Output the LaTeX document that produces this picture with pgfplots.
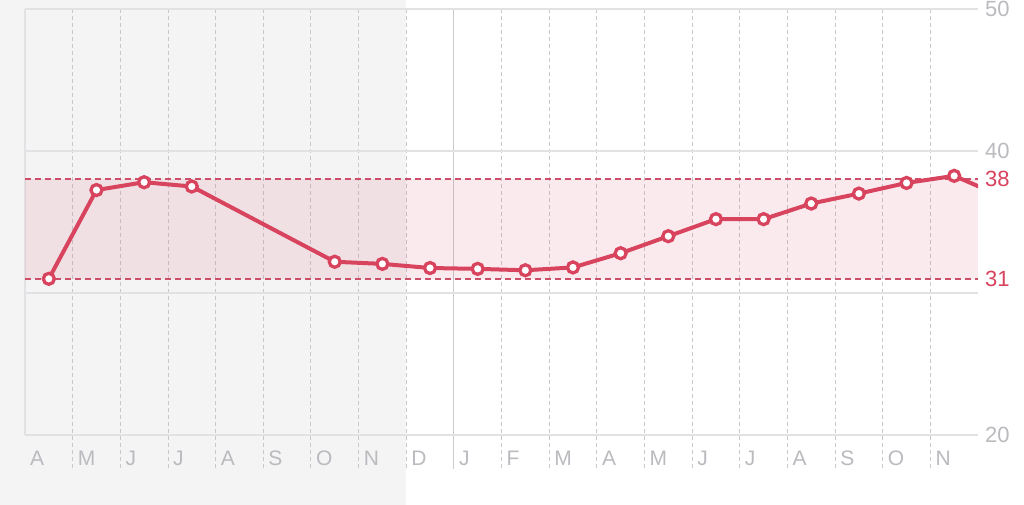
\documentclass[border=0pt]{standalone}
\usepackage{pgfplots}
\pgfplotsset{compat=1.18}
\usetikzlibrary{backgrounds}
\usepackage{fontspec}
\setmainfont{Liberation Sans}
\definecolor{linered}{RGB}{216,67,94}
\definecolor{dashred}{RGB}{205,78,105}
\definecolor{lblgray}{RGB}{186,186,191}
\definecolor{gridgray}{RGB}{226,226,229}
\definecolor{vgrid}{RGB}{200,200,205}
\definecolor{bgshade}{RGB}{244,244,245}
\begin{document}
\begin{tikzpicture}[x=1pt,y=1pt]
\begin{axis}[
  at={(0,0)}, anchor=south west,
  scale only axis, width=953pt, height=426pt,
  xmin=0, xmax=20, ymin=20, ymax=50,
  axis line style={draw=none},
  major tick length=0pt,
  xtick={0,...,19},
  xticklabels={A,M,J,J,A,S,O,N,D,J,F,M,A,M,J,J,A,S,O,N},
  xticklabel style={anchor=base west, inner sep=0pt, xshift=5pt, yshift=-30pt, text=lblgray, font=\fontsize{21}{25}\selectfont},
  ytick={20,30,40,50},
  yticklabels={20,,40,50},
  yticklabel pos=right,
  yticklabel style={anchor=west, inner sep=0pt, xshift=7pt, text=lblgray, font=\fontsize{22}{26}\selectfont},
  ymajorgrids,
  major grid style={gridgray, line width=1.1pt},
  extra y ticks={31,38},
  extra y tick labels={31,38},
  extra y tick style={yticklabel style={text=linered}, grid=none},
  /pgf/number format/assume math mode=true,
]
\fill[linered, opacity=0.11] (axis cs:0,31) rectangle (axis cs:20,38);
\draw[dashred, line width=1.8pt, dash pattern=on 6pt off 4pt] (axis cs:0,31) -- (axis cs:20,31);
\draw[dashred, line width=1.8pt, dash pattern=on 6pt off 4pt] (axis cs:0,38) -- (axis cs:20,38);
\addplot[linered, line width=4pt, mark=*,
  mark options={fill=white, draw=linered, line width=3.3pt, solid, mark size=5.5pt}]
coordinates {
(0.5,31.0) (1.5,37.25) (2.5,37.8) (3.5,37.5)
(6.5,32.2) (7.5,32.05) (8.5,31.76) (9.5,31.7) (10.5,31.6) (11.5,31.8)
(12.5,32.8) (13.5,34.0) (14.5,35.2) (15.5,35.2) (16.5,36.3) (17.5,37.0)
(18.5,37.75) (19.5,38.25) (20.5,36.8)
};
\end{axis}
\begin{scope}[on background layer]
\fill[bgshade] (-25,-70) rectangle (381.2,435);
\path (999,435) -- (999,-70);
\draw[gridgray, line width=1.1pt] (0,0) -- (0,426);
\foreach \i in {1,...,8,10,11,...,19}{
  \draw[vgrid, line width=0.9pt, dash pattern=on 4pt off 3pt] (\i*47.65,426) -- (\i*47.65,-34);
}
\draw[gridgray!90!black, line width=1.1pt] (9*47.65,426) -- (9*47.65,-34);
\end{scope}
\end{tikzpicture}
\end{document}
